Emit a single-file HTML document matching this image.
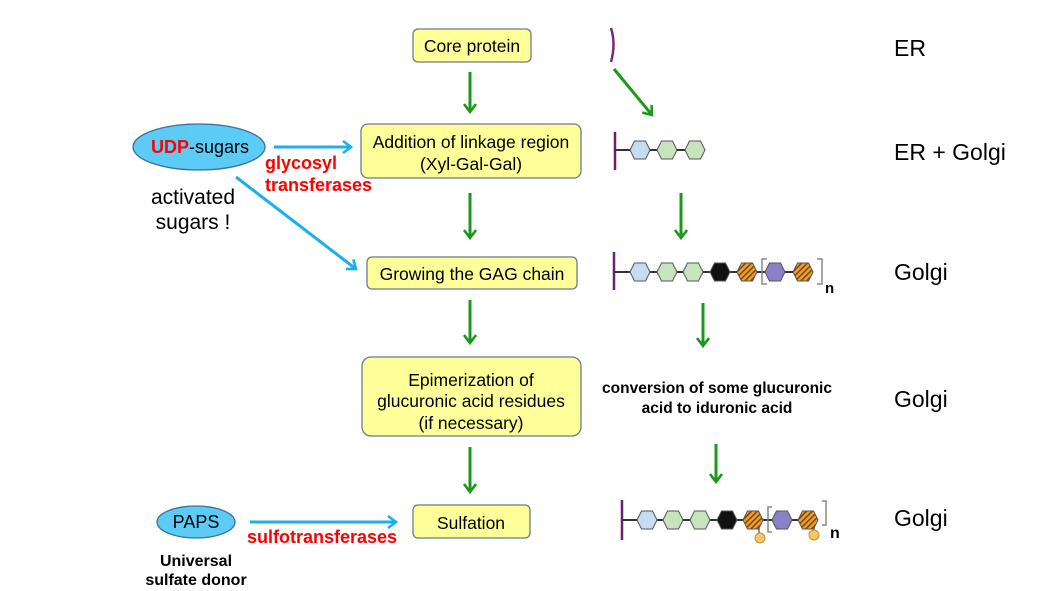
<!DOCTYPE html>
<html><head><meta charset="utf-8"><style>
body{margin:0;background:#fff}
svg{display:block;font-family:"Liberation Sans",Arial,sans-serif}
</style></head><body>
<svg width="1057" height="591" viewBox="0 0 1057 591" xmlns="http://www.w3.org/2000/svg">
<defs>
<pattern id="hatch" width="4" height="4" patternUnits="userSpaceOnUse" patternTransform="rotate(45)">
<rect width="4" height="4" fill="#f0a030"/><rect width="1.6" height="4" fill="#7a4a10"/></pattern>
<polygon id="hx" points="-10,0 -5.5,-9 5.5,-9 10,0 5.5,9 -5.5,9" stroke="#555" stroke-width="1"/>
<marker id="ag" markerWidth="14" markerHeight="14" refX="10" refY="7" orient="auto" markerUnits="userSpaceOnUse"><path d="M2,1 L10,7 L2,13" fill="none" stroke="#1a9a1a" stroke-width="2.6"/></marker>
<marker id="ab" markerWidth="14" markerHeight="14" refX="10" refY="7" orient="auto" markerUnits="userSpaceOnUse"><path d="M2,1 L10,7 L2,13" fill="none" stroke="#1ab0ec" stroke-width="2.6"/></marker>
</defs>
<g fill="#ffff99" stroke="#6b7a8f" stroke-width="1.3">
<rect x="413" y="29" width="118" height="33" rx="5"/>
<rect x="361" y="124" width="220" height="54" rx="7"/>
<rect x="367" y="257" width="210" height="32" rx="5"/>
<rect x="362" y="357" width="219" height="79" rx="9"/>
<rect x="413" y="505" width="117" height="33" rx="5"/>
</g>
<g font-size="17.5" fill="#000" text-anchor="middle">
<text x="472" y="52">Core protein</text>
<text x="471" y="148">Addition of linkage region</text>
<text x="471" y="170">(Xyl-Gal-Gal)</text>
<text x="472" y="280">Growing the GAG chain</text>
<text x="471" y="386">Epimerization of</text>
<text x="471" y="407">glucuronic acid residues</text>
<text x="471" y="429">(if necessary)</text>
<text x="471" y="529">Sulfation</text>
</g>
<g font-size="23" fill="#000">
<text x="894" y="56">ER</text>
<text x="894" y="160">ER + Golgi</text>
<text x="894" y="280">Golgi</text>
<text x="894" y="407">Golgi</text>
<text x="894" y="526">Golgi</text>
</g>
<ellipse cx="199" cy="147" rx="66" ry="23" fill="#5ccbf5" stroke="#3a6fa0" stroke-width="1.3"/>
<text x="200" y="153" font-size="18" text-anchor="middle"><tspan fill="#f00" font-weight="bold">UDP</tspan>-sugars</text>
<ellipse cx="196" cy="522" rx="39" ry="16" fill="#5ccbf5" stroke="#3a6fa0" stroke-width="1.3"/>
<text x="196" y="528" font-size="18" text-anchor="middle">PAPS</text>
<text x="193" y="204" font-size="21" text-anchor="middle">activated</text>
<text x="193" y="229" font-size="21" text-anchor="middle">sugars !</text>
<g fill="#f00" font-weight="bold" font-size="18">
<text x="265" y="169">glycosyl</text>
<text x="265" y="191">transferases</text>
<text x="247" y="543">sulfotransferases</text>
</g>
<g font-weight="bold" font-size="15.5" text-anchor="middle">
<text x="717" y="393">conversion of some glucuronic</text>
<text x="717" y="413">acid to iduronic acid</text>
</g>
<g font-weight="bold" font-size="16" text-anchor="middle">
<text x="196" y="566">Universal</text>
<text x="196" y="585">sulfate donor</text>
</g>
<g stroke="#1ab0ec" stroke-width="3" fill="none">
<line x1="274" y1="147" x2="351" y2="147" marker-end="url(#ab)"/>
<line x1="236" y1="177" x2="356" y2="269" marker-end="url(#ab)"/>
<line x1="250" y1="522" x2="396" y2="522" marker-end="url(#ab)"/>
</g>
<g stroke="#1a9a1a" stroke-width="3" fill="none">
<line x1="470" y1="72" x2="470" y2="112" marker-end="url(#ag)"/>
<line x1="470" y1="193" x2="470" y2="238" marker-end="url(#ag)"/>
<line x1="470" y1="300" x2="470" y2="343" marker-end="url(#ag)"/>
<line x1="470" y1="447" x2="470" y2="492" marker-end="url(#ag)"/>
<line x1="614" y1="69" x2="652" y2="115" marker-end="url(#ag)"/>
<line x1="681" y1="193" x2="681" y2="238" marker-end="url(#ag)"/>
<line x1="703" y1="303" x2="703" y2="346" marker-end="url(#ag)"/>
<line x1="716" y1="444" x2="716" y2="482" marker-end="url(#ag)"/>
</g>
<path d="M611,28 Q616,44 611,62" stroke="#7a2a7a" stroke-width="2.5" fill="none"/>
<line x1="615" y1="132" x2="615" y2="170" stroke="#6a206a" stroke-width="2.5"/>
<line x1="615" y1="150" x2="695" y2="150" stroke="#333" stroke-width="2"/>
<use href="#hx" x="640" y="150" fill="#c5dcf2"/>
<use href="#hx" x="667" y="150" fill="#c6e5bd"/>
<use href="#hx" x="695" y="150" fill="#c6e5bd"/>
<line x1="614" y1="252" x2="614" y2="290" stroke="#6a206a" stroke-width="2.5"/>
<line x1="614" y1="272" x2="803" y2="272" stroke="#333" stroke-width="2"/>
<use href="#hx" x="640" y="272" fill="#c5dcf2"/>
<use href="#hx" x="667" y="272" fill="#c6e5bd"/>
<use href="#hx" x="693" y="272" fill="#c6e5bd"/>
<use href="#hx" x="720" y="272" fill="#111"/>
<use href="#hx" x="747" y="272" fill="url(#hatch)"/>
<use href="#hx" x="775" y="272" fill="#8a80c8"/>
<use href="#hx" x="803" y="272" fill="url(#hatch)"/>
<path d="M767,259 H762 V284 H767 M817,259 H822 V284 H817" stroke="#888" stroke-width="1.5" fill="none"/>
<text x="825" y="293" font-size="15" font-weight="bold">n</text>
<line x1="622" y1="500" x2="622" y2="540" stroke="#6a206a" stroke-width="2.5"/>
<line x1="622" y1="520" x2="808" y2="520" stroke="#333" stroke-width="2"/>
<line x1="759" y1="520" x2="759" y2="536" stroke="#555" stroke-width="1.3"/>
<line x1="814" y1="520" x2="814" y2="536" stroke="#555" stroke-width="1.3"/>
<circle cx="760" cy="538" r="5" fill="#f6c66a" stroke="#c8902a"/>
<circle cx="814" cy="535" r="5" fill="#f6c66a" stroke="#c8902a"/>
<use href="#hx" x="647" y="520" fill="#c5dcf2"/>
<use href="#hx" x="673" y="520" fill="#c6e5bd"/>
<use href="#hx" x="700" y="520" fill="#c6e5bd"/>
<use href="#hx" x="727" y="520" fill="#111"/>
<use href="#hx" x="753" y="520" fill="url(#hatch)"/>
<use href="#hx" x="782" y="520" fill="#8a80c8"/>
<use href="#hx" x="808" y="520" fill="url(#hatch)"/>
<path d="M772,507 H768 V532 H772 M822,501 H826 V525 H822" stroke="#888" stroke-width="1.5" fill="none"/>
<text x="830" y="538" font-size="16" font-weight="bold">n</text>
</svg>
</body></html>
